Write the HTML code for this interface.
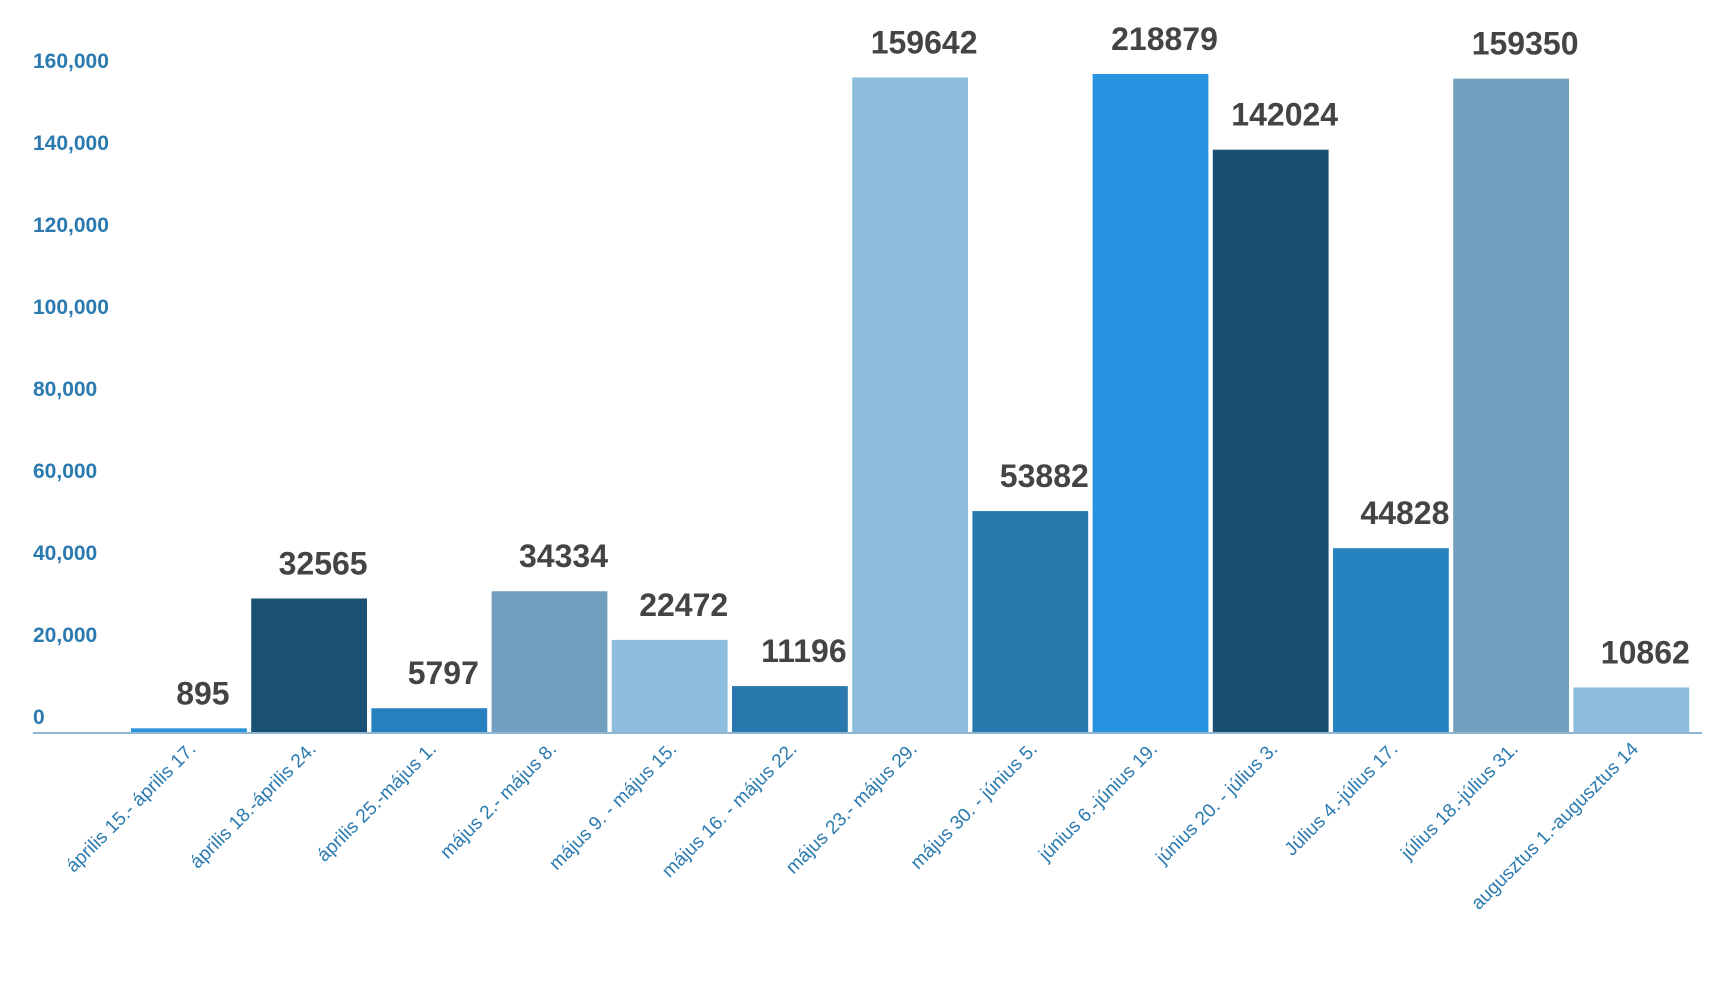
<!DOCTYPE html>
<html><head><meta charset="utf-8"><style>
body{margin:0;background:#fff;}
svg{display:block;font-family:"Liberation Sans",Arial,sans-serif;}
</style></head><body>
<svg id="chart" width="1713" height="982" viewBox="0 0 1713 982" xmlns="http://www.w3.org/2000/svg">
<g id="yaxis"></g>
<g id="bars"></g>
<g id="xaxis"></g>
</svg>
<script>
const categories = ["április 15.- április 17.","április 18.-április 24.","április 25.-május 1.","május 2.- május 8.","május 9. - május 15.","május 16. - május 22.","május 23.- május 29.","május 30. - június 5.","június 6.-június 19.","június 20. - július 3.","Július 4.-július 17.","július 18.-július 31.","augusztus 1.-augusztus 14"];
const values = [895,32565,5797,34334,22472,11196,159642,53882,218879,142024,44828,159350,10862];
const colors = ["#2b93d9","#1a5073","#2580c0","#729fbf","#8cbddc","#2878ad","#8cbddc","#2878ad","#2893e0","#1a4f72","#2583c0","#729fbd","#8cbddc"];
const yTicks = [0,20000,40000,60000,80000,100000,120000,140000,160000];

const NS = "http://www.w3.org/2000/svg";
const y0 = 732, pxPer = 82/20000, yMaxShown = 160500;
const x0 = 131, pitch = 120.2, gap = 4.4;
function yScale(v){ return y0 - Math.min(v, yMaxShown) * pxPer; }
function xScale(i){ return x0 + i * pitch; }
function mk(tag, attrs, parent){ const e=document.createElementNS(NS,tag); for(const k in attrs) e.setAttribute(k,attrs[k]); parent.appendChild(e); return e; }

const yg = document.getElementById('yaxis');
yTicks.forEach(t=>{
  const tx = mk('text',{x:33,y:yScale(t)-8,fill:'#2a7ab0','font-size':21,'font-weight':'bold'},yg);
  
  
  tx.textContent = t.toLocaleString('en-US');
});

const bg = document.getElementById('bars');
const xg = document.getElementById('xaxis');
values.forEach((v,i)=>{
  const x = xScale(i), w = pitch - gap, top = yScale(v);
  const r = mk('rect',{x:x,y:top,width:w,height:y0-top,fill:colors[i]},bg);
  
  
  const lbl = mk('text',{x:x+w/2+14,y:top-24,fill:'#444','font-size':32,'font-weight':'bold','text-anchor':'middle'},bg);
  
  
  lbl.textContent = v;
  const cx = x + w/2 + 8, cy = 750;
  const cl = mk('text',{x:cx,y:cy,fill:'#2a7ab0','font-size':19,'text-anchor':'end',transform:'rotate(-45 '+cx+' '+cy+')'},xg);
  
  
  cl.textContent = categories[i];
});
const axis = mk('line',{x1:33,y1:y0+1,x2:1702,y2:y0+1,stroke:'#8cb6d2','stroke-width':2},xg);


</script>
</body></html>
